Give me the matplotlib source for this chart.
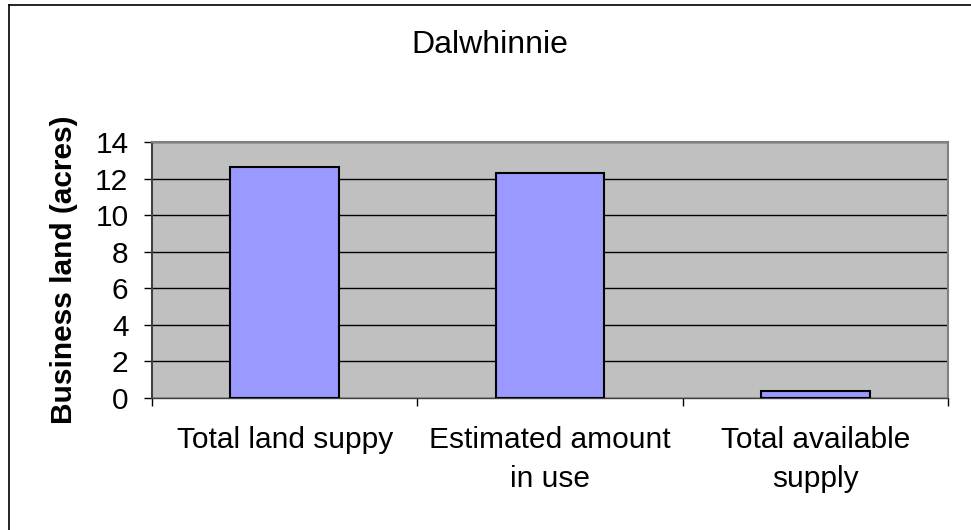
import numpy as np
import matplotlib.pyplot as plt
from matplotlib.lines import Line2D

categories = ["Total land suppy", "Estimated amount\nin use", "Total available\nsupply"]
land_acres = [12.65, 12.3, 0.37]
y_ticks = [0, 2, 4, 6, 8, 10, 12, 14]

plt.rcParams['font.family'] = ['Liberation Sans', 'DejaVu Sans']

fig = plt.figure(figsize=(9.71, 5.30), dpi=100)
ax = fig.add_axes([152/971, 1-398/530, (948-152)/971, (398-142)/530])
ax.set_facecolor('#C0C0C0')

x = np.arange(len(categories))
ax.bar(x, land_acres, width=0.41, color='#9999FF', edgecolor='black', linewidth=1.5, zorder=3)

ax.set_xlim(-0.5, len(categories)-0.5)
ax.set_ylim(0, 14)
ax.set_yticks(y_ticks)
ax.set_yticklabels([str(t) for t in y_ticks], fontsize=21.5)
ax.yaxis.grid(True, color='black', linewidth=1.0, zorder=1)
ax.tick_params(axis='y', direction='out', length=6, width=1, pad=11)

ax.set_xticks(x)
ax.set_xticklabels(categories, fontsize=21.5, linespacing=1.52)
ax.tick_params(axis='x', which='major', length=0, pad=20)
ax.set_xticks(np.arange(len(categories)+1)-0.5, minor=True)
ax.tick_params(axis='x', which='minor', direction='out', length=6, width=1)

for s in ['top', 'right']:
    ax.spines[s].set_color('#808080')
    ax.spines[s].set_linewidth(1.5)
ax.spines['left'].set_color('#404040')
ax.spines['left'].set_linewidth(1.5)
ax.spines['bottom'].set_color('#404040')
ax.spines['bottom'].set_linewidth(1.0)

ax.set_ylabel("Business land (acres)", fontsize=21.5, fontweight='bold', labelpad=12)
fig.text(490/971, 1-45/530, "Dalwhinnie", fontsize=23, ha='center', va='center')

# chart border (only top and left fall inside the picture)
fig.add_artist(Line2D([9/971, 9/971], [0, 1-5/530], transform=fig.transFigure, color='black', linewidth=1.2))
fig.add_artist(Line2D([9/971, 1], [1-5/530, 1-5/530], transform=fig.transFigure, color='black', linewidth=1.2))

plt.savefig("out.png", dpi=100)
